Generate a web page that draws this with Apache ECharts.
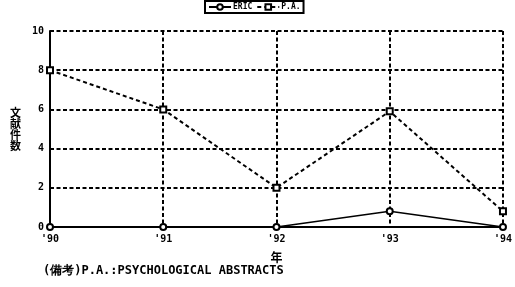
<!DOCTYPE html>
<html><head><meta charset="utf-8">
<script src="https://cdn.jsdelivr.net/npm/echarts@6/dist/echarts.min.js"></script>
<style>html,body{margin:0;padding:0;background:#fff}#c{width:515px;height:287px}</style>
</head><body><div id="c"></div>
<script>
const categories = ["'90", "'91", "'92", "'93", "'94"];
const ericValues = [0, 0, 0, 0.8, 0];
const paValues = [8, 6, 2, 5.9, 0.8];
const yTicks = [0, 2, 4, 6, 8, 10];
const seriesNames = ["ERIC", "P.A."];
const footnote = "(備考)P.A.:PSYCHOLOGICAL ABSTRACTS";

const font = "'DejaVu Sans Mono', monospace";
const chart = echarts.init(document.getElementById('c'));
chart.setOption({
  animation: false,
  backgroundColor: '#fff',
  textStyle: { fontFamily: font, color: '#000' },
  legend: {
    left: 205, top: 1, itemWidth: 22, itemHeight: 7, itemGap: 4,
    padding: [2, 3], borderColor: '#000', borderWidth: 2,
    textStyle: { fontSize: 8, fontWeight: 'bold', fontFamily: font, color: '#000', padding: [0, 0, 0, -3] },
    data: seriesNames
  },
  grid: { left: 50, right: 10, top: 31, bottom: 60 },
  xAxis: {
    type: 'category', data: categories, boundaryGap: false,
    name: '年', nameLocation: 'middle', nameGap: 24,
    nameTextStyle: { fontSize: 12, fontWeight: 'bold', fontFamily: "'Noto Sans CJK JP'" },
    axisLine: { lineStyle: { color: '#000', width: 2 } },
    axisTick: { show: false },
    axisLabel: { fontSize: 10, fontWeight: 'bold', color: '#000', margin: 7 },
    splitLine: { show: true, lineStyle: { color: '#000', type: [4, 2.5], width: 2 } }
  },
  yAxis: {
    type: 'value', min: 0, max: 10, interval: 2,
    name: '文\n献\n件\n数', nameLocation: 'middle', nameGap: 29, nameRotate: 0,
    nameTextStyle: { fontSize: 11, fontWeight: 'bold', lineHeight: 11, fontFamily: "'Noto Sans CJK JP'", padding: [0, 0, 10, 0] },
    axisLine: { show: true, lineStyle: { color: '#000', width: 2 } },
    axisTick: { show: false },
    axisLabel: { fontSize: 10, fontWeight: 'bold', color: '#000', margin: 6,
      formatter: v => yTicks.includes(v) ? String(v) : '' },
    splitLine: { show: true, lineStyle: { color: '#000', type: [4, 2.5], width: 2 } }
  },
  graphic: [{
    type: 'text', left: 43, top: 265,
    style: { text: footnote, fontSize: 12, fontWeight: 'bold', fill: '#000', fontFamily: font }
  }],
  series: [{
    name: seriesNames[0], type: 'line', data: ericValues,
    symbol: 'emptyCircle', symbolSize: 6,
    lineStyle: { color: '#000', width: 1.5 },
    itemStyle: { color: '#000', borderWidth: 1.5 }
  }, {
    name: seriesNames[1], type: 'line', data: paValues,
    symbol: 'emptyRect', symbolSize: 6,
    lineStyle: { color: '#000', width: 2, type: [4, 3] },
    itemStyle: { color: '#000', borderWidth: 1.5 }
  }]
});
</script></body></html>
